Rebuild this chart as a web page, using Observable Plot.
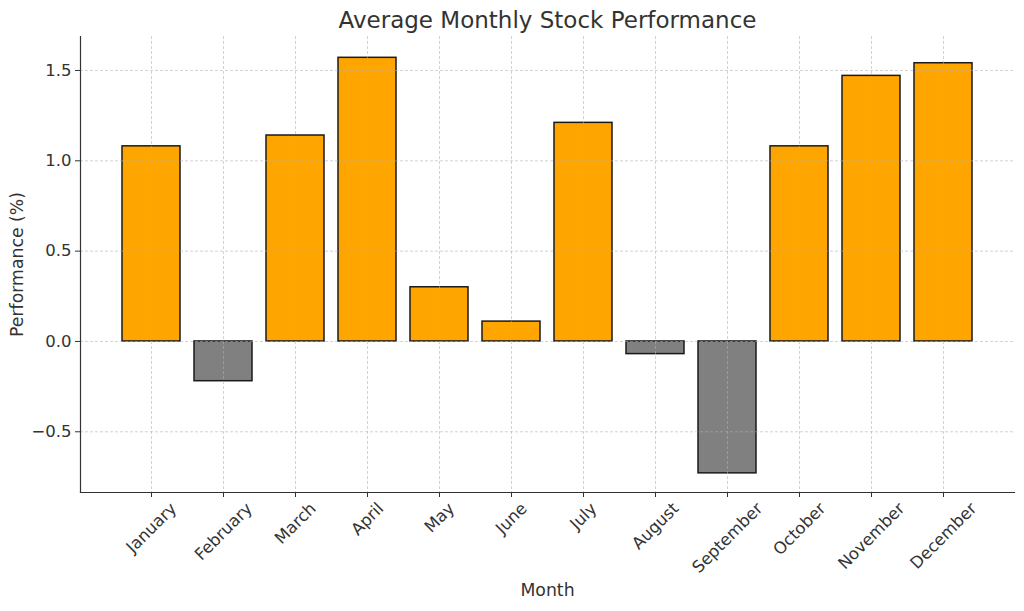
<!DOCTYPE html>
<html>
<head>
<meta charset="utf-8">
<script src="https://cdn.jsdelivr.net/npm/d3@7"></script>
<script src="https://cdn.jsdelivr.net/npm/@observablehq/plot@0.6"></script>
<style>
  html, body { margin: 0; padding: 0; background: #fff; }
</style>
</head>
<body>
<div id="chart"></div>
<script>
const months = ["January","February","March","April","May","June","July","August","September","October","November","December"];
const values = [1.08, -0.22, 1.14, 1.57, 0.30, 0.11, 1.21, -0.07, -0.73, 1.08, 1.47, 1.54];
const yTicks = [-0.5, 0, 0.5, 1.0, 1.5];
const title = "Average Monthly Stock Performance";
const xLabel = "Month";
const yLabel = "Performance (%)";

const data = months.map((m, i) => ({month: m, value: values[i]}));
const ink = "#333333";
const tickFont = 16.5;
const labelFont = 17.3;

// measure label widths to mimic rotated, centred labels hanging below the axis
const ctx = document.createElement("canvas").getContext("2d");
ctx.font = `${tickFont}px "DejaVu Sans"`;
const labelOffset = m => 8 + (ctx.measureText(m).width + 0.9 * tickFont) / (2 * Math.SQRT2);

const chart = Plot.plot({
  width: 1024,
  height: 611,
  marginTop: 36,
  marginBottom: 119,
  marginLeft: 80,
  marginRight: 10,
  style: {fontFamily: "DejaVu Sans", fontSize: `${tickFont}px`, color: ink, background: "#fff"},
  x: {domain: months, paddingInner: 0.2, paddingOuter: 0.585, axis: null},
  y: {domain: [-0.836, 1.688], axis: null},
  marks: [
    Plot.barY(data, {x: "month", y: "value", fill: d => d.value >= 0 ? "#FFA500" : "#808080", stroke: "#1a1a1a", strokeWidth: 1.5}),
    Plot.gridX(months, {stroke: "#b0b0b0", strokeOpacity: 0.7, strokeWidth: 0.8, strokeDasharray: "3,2"}),
    Plot.gridY(yTicks, {stroke: "#b0b0b0", strokeOpacity: 0.7, strokeWidth: 0.8, strokeDasharray: "3,2"}),
    Plot.axisY(yTicks, {tickSize: 5, tickPadding: 4, tickFormat: d3.format(".1f"), stroke: ink, fill: ink, fontSize: tickFont, label: null}),
    Plot.axisX(months, {tickSize: 5, tickFormat: () => "", stroke: ink, label: null}),
    Plot.frame({anchor: "left", stroke: ink, strokeWidth: 1.2}),
    Plot.frame({anchor: "bottom", stroke: ink, strokeWidth: 1.2}),
    ...months.map(m => Plot.text([m], {x: d => d, text: d => d, frameAnchor: "bottom", dy: labelOffset(m), rotate: -45, textAnchor: "middle", lineAnchor: "middle", fill: ink, fontSize: tickFont})),
    Plot.text([xLabel], {frameAnchor: "bottom", dy: 98, textAnchor: "middle", lineAnchor: "middle", fill: ink, fontSize: labelFont}),
    Plot.text([yLabel], {frameAnchor: "left", dx: -63, rotate: -90, textAnchor: "middle", lineAnchor: "middle", fill: ink, fontSize: labelFont}),
    Plot.text([title], {frameAnchor: "top", dy: -16, textAnchor: "middle", lineAnchor: "middle", fill: ink, fontSize: 23})
  ]
});
document.getElementById("chart").appendChild(chart);
</script>
</body>
</html>
